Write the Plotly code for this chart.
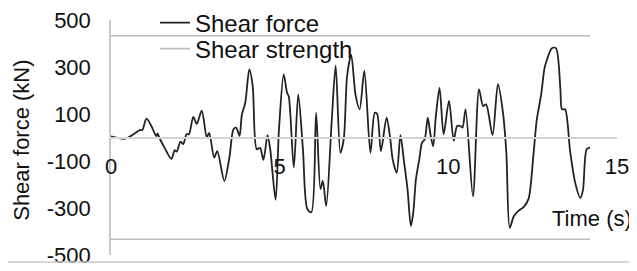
import plotly.graph_objects as go

# Time (s) and shear force (kN)
time_s = [0.00, 0.41, 0.70, 0.85, 0.93, 1.05, 1.20, 1.34, 1.38, 1.43, 1.59, 1.79, 1.89, 1.95,
          2.06, 2.14, 2.24, 2.31, 2.44, 2.54, 2.69, 2.84, 2.91, 3.06, 3.15, 3.36, 3.51, 3.63,
          3.71, 3.81, 3.88, 3.98, 4.10, 4.20, 4.32, 4.42, 4.52, 4.64, 4.72, 4.88, 4.98, 5.12,
          5.22, 5.27, 5.42, 5.55, 5.69, 5.82, 5.94, 6.08, 6.21, 6.28, 6.38, 6.54, 6.66, 6.80,
          6.90, 7.00, 7.12, 7.25, 7.37, 7.51, 7.69, 7.82, 7.89, 8.00, 8.17, 8.28, 8.35, 8.47,
          8.58, 8.69, 8.79, 8.89, 8.96, 9.04, 9.14, 9.22, 9.30, 9.39, 9.47, 9.55, 9.63, 9.74,
          9.86, 10.02, 10.16, 10.26, 10.36, 10.42, 10.51, 10.73, 10.91, 11.03, 11.12, 11.31,
          11.47, 11.62, 11.72, 11.82, 11.94, 12.07, 12.24, 12.38, 12.52, 12.62, 12.75, 12.85,
          12.92, 13.07, 13.19, 13.32, 13.37, 13.46, 13.61, 13.76, 13.91, 13.99, 14.10, 14.20]
shear_force = [5, -5, 17, 31, 32, 80, 48, 6, 17, 0, -44, -91, -54, -60,
               -18, -28, 14, 14, 88, 58, 114, 0, 20, -85, -58, -185, -85, 35,
               42, 7, 98, 148, 290, 220, -50, -44, -95, 10, -50, -265, 35, 268,
               190, 175, -128, 183, -50, -305, -318, 105, -220, -185, -292, 63, 306, -65,
               -7, 262, 352, 180, 120, 283, -65, 105, 100, -58, 84, -7, -93, -150,
               10, -107, -220, -377, -320, -177, -92, -22, -8, 84, 14, -37, 91, 211,
               14, 156, -14, 49, 49, 42, 120, -250, 205, 134, 141, 10,
               227, 105, -65, -384, -335, -313, -295, -260, -78, 74, 181, 294,
               330, 380, 380, 211, 120, 120, -58, -192, -257, -225, -50, -43]

strength_time = [0.0, 14.2]
shear_strength = 433

y_ticks = [-500, -300, -100, 100, 300, 500]
y_tick_labels = ["-500", "-300", "-100", "100", "300", "500"]
x_ticks = [0, 5, 10, 15]

FONT = "Liberation Sans, Arial, sans-serif"
W, H = 629, 263  # page body has an 8 px margin; figure fills the rest of the 637x271 window

fig = go.Figure()
fig.add_trace(go.Scatter(
    x=time_s, y=shear_force, mode="lines", name="Shear force", legend="legend",
    line=dict(color="#222222", width=1.8, shape="spline", smoothing=0.8),
))
fig.add_trace(go.Scatter(
    x=strength_time + [None] + strength_time,
    y=[shear_strength] * 2 + [None] + [-shear_strength] * 2,
    mode="lines", name="Shear strength", legend="legend2",
    line=dict(color="#bdbdbd", width=1.6),
))

legend_common = dict(xref="container", yref="container", xanchor="left", yanchor="middle",
                     bgcolor="rgba(0,0,0,0)", font=dict(size=24))

fig.update_layout(
    width=W, height=H,
    margin=dict(l=103, r=20, t=12, b=16, autoexpand=False),
    paper_bgcolor="white", plot_bgcolor="white",
    font=dict(family=FONT, size=22, color="#111111"),
    showlegend=True,
    legend=dict(x=147 / W, y=1 - 15 / H, **legend_common),
    legend2=dict(x=147 / W, y=1 - 41 / H, **legend_common),
    xaxis=dict(range=[0, 15], tickvals=x_ticks, showgrid=False, zeroline=False,
               showline=True, linecolor="#d4d4d4", linewidth=1.5, automargin=False,
               anchor="free", position=0.5, ticks="", ticklabelstandoff=9,
               ticklabeloverflow="allow"),
    yaxis=dict(range=[-500, 500], tickvals=y_ticks, ticktext=y_tick_labels,
               showgrid=False, zeroline=False, automargin=False,
               showline=True, linecolor="#c8c8c8", linewidth=1.5, ticks="",
               ticklabelstandoff=14, ticklabeloverflow="allow"),
    annotations=[
        dict(text="Time (s)", x=1.034, y=0.157, xref="paper", yref="paper",
             xanchor="right", yanchor="middle", showarrow=False, font=dict(size=22)),
        dict(text="Shear force (kN)", x=-0.176, y=0.49, xref="paper", yref="paper",
             xanchor="center", yanchor="middle", textangle=-90, showarrow=False,
             font=dict(size=22)),
    ],
    shapes=[dict(type="line", xref="paper", yref="paper", x0=-0.219, x1=1.026,
                 y0=-0.03, y1=-0.03, line=dict(color="#c8c8c8", width=1.5))],
)

fig.write_html("out.html")
